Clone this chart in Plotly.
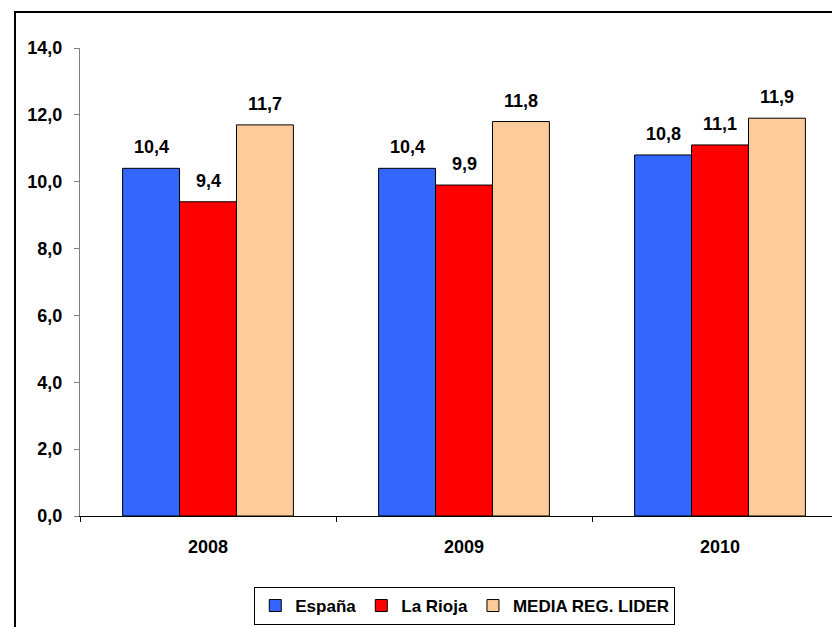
import plotly.graph_objects as go

years = ["2008", "2009", "2010"]
espana = [10.4, 10.4, 10.8]
la_rioja = [9.4, 9.9, 11.1]
media_lider = [11.7, 11.8, 11.9]

series = [
    ("España", espana, "#3366FF"),
    ("La Rioja", la_rioja, "#FF0000"),
    ("MEDIA REG. LIDER", media_lider, "#FFCC99"),
]

FAM = "Liberation Sans, Arial, sans-serif"
bold = dict(family=FAM, size=18, color="black", weight="bold")

# page body has an 8px margin, so the figure is laid out 8px up/left
W, H = 840, 627
L, T, B, R = 72, 40, 119, 0
plot_w = W - L - R
bargap = 0.333
bar_px = plot_w / len(years) * (1 - bargap) / len(series)

fig = go.Figure()
annotations = []
for i, (name, vals, color) in enumerate(series):
    fig.add_trace(go.Bar(
        x=years, y=vals, name=name,
        marker=dict(color=color, line=dict(color="black", width=1)),
        hoverinfo="name+y",
    ))
    # value labels sit a bit higher above the bars than plotly's own
    for j, v in enumerate(vals):
        annotations.append(dict(
            x=j, y=v, xref="x", yref="y",
            text=f"{v:.1f}".replace(".", ","),
            showarrow=False, yanchor="bottom",
            xshift=(i - 1) * bar_px, yshift=9,
            font=bold,
        ))

fig.update_layout(
    width=W, height=H,
    margin=dict(l=L, r=R, t=T, b=B, autoexpand=False),
    paper_bgcolor="white", plot_bgcolor="white",
    barmode="group", bargap=bargap, bargroupgap=0,
    separators=",.",
    font=dict(family=FAM, size=16, color="black"),
    showlegend=True,
    legend=dict(
        orientation="h", x=0.501, xanchor="center", y=-0.1517, yanchor="top",
        bordercolor="black", borderwidth=1,
        font=dict(family=FAM, size=17, color="black", weight="bold"),
        itemwidth=30, traceorder="normal",
    ),
    xaxis=dict(
        type="category",
        showline=True, linecolor="black", linewidth=1,
        ticks="outside", tickson="boundaries", ticklen=5, tickcolor="black",
        range=[-0.5, 2.5],
        tickfont=bold,
        ticklabelstandoff=14,
    ),
    yaxis=dict(
        range=[0, 14], dtick=2, tickformat=".1f",
        showline=True, linecolor="#808080", linewidth=1,
        ticks="outside", ticklen=5, tickcolor="#808080",
        showgrid=False, zeroline=False,
        tickfont=bold,
        ticklabelstandoff=8,
    ),
    annotations=annotations,
    shapes=[dict(
        type="rect", xref="paper", yref="paper",
        x0=(7 - L) / plot_w, x1=1.05, y0=-0.3, y1=(H - B - 4) / (H - T - B),
        line=dict(color="black", width=2), fillcolor="rgba(0,0,0,0)",
        layer="above",
    )],
)

fig.write_html("out.html")
